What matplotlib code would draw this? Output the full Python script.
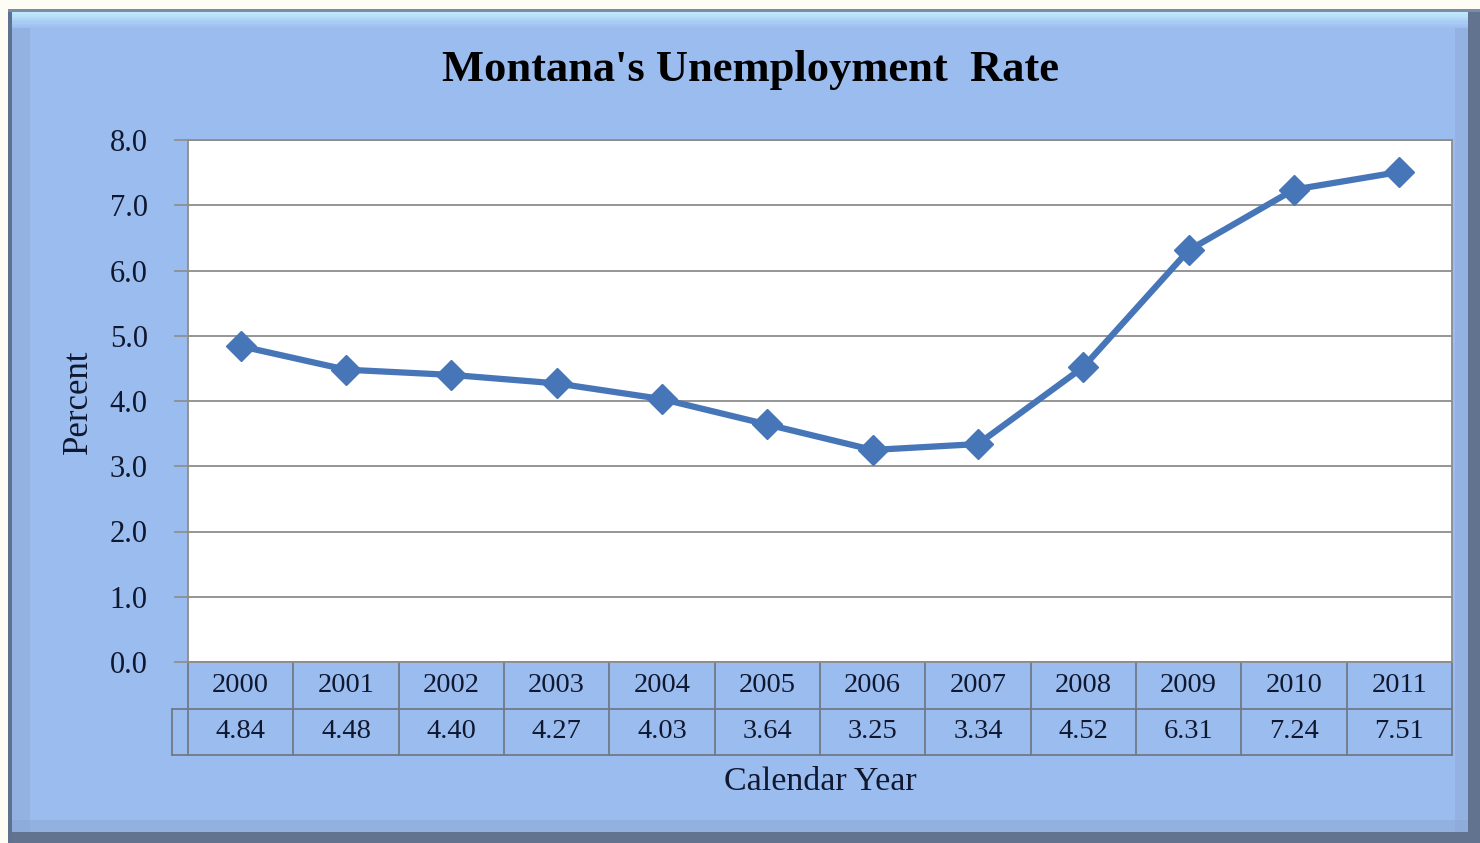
import matplotlib

matplotlib.use("Agg")
import matplotlib.pyplot as plt
import matplotlib.transforms as mtransforms
from matplotlib.patches import Rectangle

years = ["2000", "2001", "2002", "2003", "2004", "2005",
         "2006", "2007", "2008", "2009", "2010", "2011"]
rate = [4.84, 4.48, 4.40, 4.27, 4.03, 3.64, 3.25, 3.34, 4.52, 6.31, 7.24, 7.51]
yticks = [0.0, 1.0, 2.0, 3.0, 4.0, 5.0, 6.0, 7.0, 8.0]

bg = "#9bbcee"
line_col = "#4676b8"
grid_col = "#8c8c8c"
text_col = "#101830"
serif = ["Liberation Serif", "DejaVu Serif"]

W, H = 1480, 843
fig = plt.figure(figsize=(W / 100, H / 100), dpi=100, facecolor="#fdfdf6")


def px(x0, y0, x1, y1):
    # pixel box (top-left origin) -> figure fraction rect
    return (x0 / W, 1 - y1 / H, (x1 - x0) / W, (y1 - y0) / H)


def box(x0, y0, x1, y1, color, z=0, alpha=1.0):
    l, b, w, h = px(x0, y0, x1, y1)
    fig.patches.append(Rectangle((l, b), w, h, transform=fig.transFigure,
                                 facecolor=color, edgecolor="none",
                                 alpha=alpha, zorder=z))


# bevelled frame behind the chart
box(8, 9, 1480, 843, "#62738f", z=0)
box(11, 12, 1468, 832, bg, z=1)
# soft highlight along the top edge
for k, a in enumerate([0.9, 0.75, 0.6, 0.45, 0.3, 0.18, 0.08]):
    box(11, 12 + 2.3 * k, 1468, 14.3 + 2.3 * k, "#c4eeff", z=2, alpha=a)
box(11, 28, 30, 832, "#8eaad6", z=2, alpha=0.5)
box(1455, 28, 1468, 832, "#8eaad6", z=2, alpha=0.5)
box(11, 820, 1468, 832, "#8aa6d4", z=2, alpha=0.5)
box(8, 9, 12, 843, "#5f7190", z=3)
box(8, 9, 1480, 12, "#7d8ca6", z=3)

# plot area
ax = fig.add_axes(px(188, 140, 1452, 662))
ax.set_facecolor("white")
ax.set_zorder(5)

x = list(range(len(years)))
ax.plot(x, rate, color=line_col, lw=4.5, marker="D", ms=15,
        markerfacecolor=line_col, markeredgecolor=line_col, zorder=4)

ax.set_xlim(-0.5, len(years) - 0.5)
ax.set_ylim(0, 8)
ax.set_yticks(yticks)
ax.set_yticklabels([f"{v:.1f}" for v in yticks], fontsize=22,
                   family=serif, color=text_col)
ax.set_xticks([])
ax.tick_params(axis="y", length=10, width=1.2, color=grid_col, pad=19)
ax.grid(axis="y", color=grid_col, lw=1.3)
ax.set_axisbelow(True)
for side in ["left", "top", "right", "bottom"]:
    ax.spines[side].set_color(grid_col)
    ax.spines[side].set_linewidth(1.3)

# data table under the axis: years row, values row
tr = mtransforms.blended_transform_factory(ax.transData, ax.transAxes)
row_h = 46.5 / 522
left_cell = -0.5 - 16 / 105.3
tbl_col = "#707a88"
kw = dict(color=tbl_col, lw=1.3, transform=tr, clip_on=False)
ax.plot([-0.5, -0.5], [0, -2 * row_h], **kw)
for i in range(len(years)):
    ax.plot([i + 0.5, i + 0.5], [0, -2 * row_h], **kw)
ax.plot([left_cell, len(years) - 0.5], [-row_h, -row_h], **kw)
ax.plot([left_cell, len(years) - 0.5], [-2 * row_h, -2 * row_h], **kw)
ax.plot([left_cell, left_cell], [-row_h, -2 * row_h], **kw)
for i, (yr, v) in enumerate(zip(years, rate)):
    ax.text(i, -row_h / 2, yr, transform=tr, ha="center", va="center",
            fontsize=20.5, family=serif, color=text_col)
    ax.text(i, -1.5 * row_h, f"{v:.2f}", transform=tr, ha="center",
            va="center", fontsize=20.5, family=serif, color=text_col)

fig.text(820 / W, 1 - 782 / H, "Calendar Year", ha="center", va="center",
         fontsize=24.5, family=serif, color=text_col)
fig.text(78 / W, 1 - 402 / H, "Percent", ha="center", va="center",
         rotation=90, fontsize=25, family=serif, color=text_col)
fig.text(750 / W, 1 - 70 / H, "Montana's Unemployment  Rate", ha="center",
         va="center", fontsize=32, fontweight="bold", family=serif,
         color="black")

fig.savefig("out.png", dpi=100, facecolor=fig.get_facecolor())
